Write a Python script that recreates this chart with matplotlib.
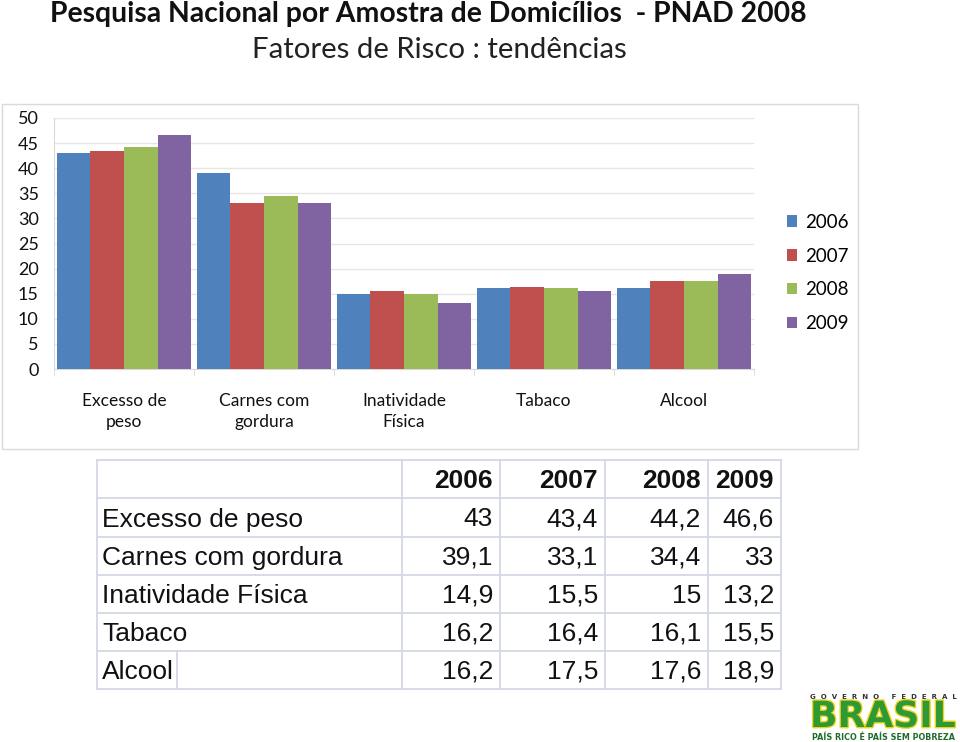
import matplotlib
matplotlib.use('Agg')
import matplotlib.pyplot as plt
import matplotlib.patheffects as pe
from matplotlib.patches import Rectangle
import numpy as np

# Dados (PNAD / VIGITEL) — fatores de risco por ano
categorias = ['Excesso de\npeso', 'Carnes com\ngordura', 'Inatividade\nFísica', 'Tabaco', 'Alcool']
linhas_tabela = ['Excesso de peso', 'Carnes com gordura', 'Inatividade Física', 'Tabaco', 'Alcool']
anos = ['2006', '2007', '2008', '2009']
v2006 = [43, 39.1, 14.9, 16.2, 16.2]
v2007 = [43.4, 33.1, 15.5, 16.4, 17.5]
v2008 = [44.2, 34.4, 15, 16.1, 17.6]
v2009 = [46.6, 33, 13.2, 15.5, 18.9]
series = [v2006, v2007, v2008, v2009]

CORES = ['#4F81BD', '#C0504D', '#9BBB59', '#8064A2']
GRADE = '#E6E6E6'
LINHA_TAB = '#D3D8E3'

W, H = 960, 742
fig = plt.figure(figsize=(W / 100, H / 100), dpi=100)
fig.patch.set_facecolor('white')

def fx(px):
    return px / W

def fy(py):
    return 1 - py / H

# Títulos
fig.text(fx(428), fy(14), 'Pesquisa Nacional por Amostra de Domicílios  - PNAD 2008',
         ha='center', va='center', fontsize=20.4, fontweight='bold', family='Lato', color='#111111')
fig.text(fx(439), fy(50), 'Fatores de Risco : tendências',
         ha='center', va='center', fontsize=21.2, family='Lato', color='#222222')

# Moldura do gráfico
fig.patches.append(Rectangle((fx(2), fy(449)), fx(856), 345 / H, transform=fig.transFigure,
                             facecolor='none', edgecolor='#D9D9D9', linewidth=1, zorder=-1))

# Gráfico de barras
ax = fig.add_axes([fx(54), fy(369), fx(700), (369 - 118) / H])
ax.patch.set_alpha(0)
x = np.arange(len(categorias))
larg = 0.24
for i, (vals, cor) in enumerate(zip(series, CORES)):
    ax.bar(x + (i - 1.5) * larg, vals, width=larg, color=cor, label=anos[i], zorder=3)

ax.set_xlim(-0.5, len(categorias) - 0.5)
ax.set_ylim(0, 50)
ax.set_yticks(range(0, 51, 5))
ax.yaxis.grid(True, color=GRADE, linewidth=1, zorder=0)
ax.set_axisbelow(True)
for s in ['top', 'right']:
    ax.spines[s].set_visible(False)
ax.spines['left'].set_color('#D9D9D9')
ax.spines['bottom'].set_color('#D9D9D9')
ax.tick_params(axis='y', length=0, pad=11, labelsize=13, labelcolor='#111111')
ax.set_xticks(x)
ax.set_xticklabels(categorias, fontsize=12.5, family='Lato', color='#111111', linespacing=1.45, va='top')
ax.tick_params(axis='x', length=0, pad=17)
ax.set_xticks(np.arange(-0.5, len(categorias)), minor=True)
ax.tick_params(axis='x', which='minor', length=5, color='#D9D9D9')
for lab in ax.get_yticklabels():
    lab.set_family('Lato')

leg = ax.legend(loc='center left', bbox_to_anchor=(fx(770), fy(273)), bbox_transform=fig.transFigure,
                frameon=False, labelspacing=0.9, handlelength=0.55, handleheight=0.55,
                handletextpad=0.4, prop={'family': 'Lato', 'size': 13.5})

# Tabela
at = fig.add_axes([0, 0, 1, 1])
at.set_xlim(0, W)
at.set_ylim(H, 0)
at.axis('off')
at.patch.set_alpha(0)

ys = [460, 498, 537, 575, 613, 651, 689]
xs = [97, 402, 500, 605, 708, 781]
for yy in ys:
    at.plot([xs[0], xs[-1]], [yy, yy], color=LINHA_TAB, lw=1.3)
for xx in xs:
    at.plot([xx, xx], [ys[0], ys[-1]], color=LINHA_TAB, lw=1.3)
at.plot([177, 177], [ys[-2], ys[-1]], color=LINHA_TAB, lw=1.3)

fonte_tab = 'Liberation Sans'
for j, ano in enumerate(anos):
    at.text(xs[j + 2] - 7, (ys[0] + ys[1]) / 2 + 2, ano, ha='right', va='center',
            fontsize=19, fontweight='bold', family=fonte_tab, color='#111111')
for i, nome in enumerate(linhas_tabela):
    yc = (ys[i + 1] + ys[i + 2]) / 2 + 2
    at.text(xs[0] + 5, yc, nome, ha='left', va='center', fontsize=19, family=fonte_tab, color='#111111')
    for j, vals in enumerate(series):
        txt = f'{vals[i]:g}'.replace('.', ',')
        at.text(xs[j + 2] - 7, yc, txt, ha='right', va='center', fontsize=19,
                family=fonte_tab, color='#111111')

# Logotipo Governo Federal
at.text(883, 697, 'G  O  V  E  R  N  O     F  E  D  E  R  A  L', ha='center', va='center',
        fontsize=5, fontweight='bold', color='#333333', family='DejaVu Sans')
at.text(883, 717, 'BRASIL', ha='center', va='center', fontsize=26, fontweight='heavy',
        family='DejaVu Sans', color='#2E9A36',
        path_effects=[pe.withStroke(linewidth=2, foreground='#F2D21B')])
at.text(883, 737, 'PAÍS RICO É PAÍS SEM POBREZA', ha='center', va='center',
        fontsize=5.8, fontweight='bold', color='#1F6B2A', family='DejaVu Sans')

fig.savefig('out.png', dpi=100, facecolor='white')
